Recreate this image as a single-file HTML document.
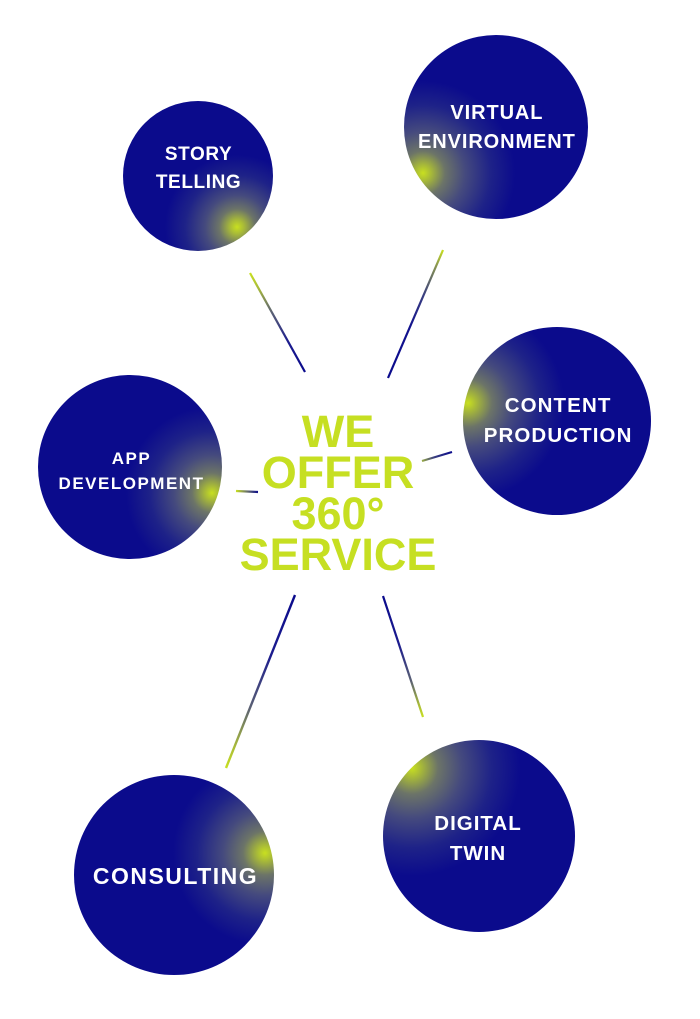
<!DOCTYPE html>
<html>
<head>
<meta charset="utf-8">
<style>
  html, body { margin: 0; padding: 0; background: #ffffff; }
  body { width: 700px; height: 1019px; position: relative; overflow: hidden; font-family: "Liberation Sans", sans-serif; }
  .c { position: absolute; border-radius: 50%; }
  .t { position: absolute; color: #ffffff; font-weight: bold; text-align: center; white-space: nowrap; }
  svg { position: absolute; left: 0; top: 0; }
  .center { position: absolute; left: 188px; width: 300px; top: 411px; text-align: center; color: #c6df22; font-weight: bold; font-size: 45px; line-height: 41px; }
</style>
</head>
<body>
<svg width="700" height="1019" viewBox="0 0 700 1019">
  <defs>
    <linearGradient id="g1" gradientUnits="userSpaceOnUse" x1="250" y1="273" x2="305" y2="372">
      <stop offset="0" stop-color="#c8e020"/><stop offset="0.15" stop-color="#a9bb3a"/><stop offset="0.4" stop-color="#5a6074"/><stop offset="0.7" stop-color="#1c1c8e"/><stop offset="1" stop-color="#0a0a8c"/>
    </linearGradient>
    <linearGradient id="g2" gradientUnits="userSpaceOnUse" x1="443" y1="250" x2="388" y2="378">
      <stop offset="0" stop-color="#c8e020"/><stop offset="0.12" stop-color="#8a9650"/><stop offset="0.35" stop-color="#3a3f80"/><stop offset="0.6" stop-color="#12128e"/><stop offset="1" stop-color="#0a0a8c"/>
    </linearGradient>
    <linearGradient id="g3" gradientUnits="userSpaceOnUse" x1="422" y1="461" x2="452" y2="452">
      <stop offset="0" stop-color="#9aab45"/><stop offset="0.4" stop-color="#3a3f80"/><stop offset="1" stop-color="#0a0a8c"/>
    </linearGradient>
    <linearGradient id="g4" gradientUnits="userSpaceOnUse" x1="236" y1="491" x2="258" y2="492">
      <stop offset="0" stop-color="#c8e020"/><stop offset="0.5" stop-color="#6a7268"/><stop offset="1" stop-color="#0a0a8c"/>
    </linearGradient>
    <linearGradient id="g5" gradientUnits="userSpaceOnUse" x1="295" y1="595" x2="226" y2="768">
      <stop offset="0" stop-color="#0a0a8c"/><stop offset="0.35" stop-color="#1c1c8e"/><stop offset="0.65" stop-color="#5a6074"/><stop offset="0.88" stop-color="#a9bb3a"/><stop offset="1" stop-color="#c8e020"/>
    </linearGradient>
    <linearGradient id="g6" gradientUnits="userSpaceOnUse" x1="383" y1="596" x2="423" y2="717">
      <stop offset="0" stop-color="#0a0a8c"/><stop offset="0.4" stop-color="#1c1c8e"/><stop offset="0.7" stop-color="#5a6074"/><stop offset="0.9" stop-color="#a9bb3a"/><stop offset="1" stop-color="#c8e020"/>
    </linearGradient>
  </defs>
  <line x1="250" y1="273" x2="305" y2="372" stroke="url(#g1)" stroke-width="2.2"/>
  <line x1="443" y1="250" x2="388" y2="378" stroke="url(#g2)" stroke-width="2.2"/>
  <line x1="422" y1="461" x2="452" y2="452" stroke="url(#g3)" stroke-width="2.2"/>
  <line x1="236" y1="491" x2="258" y2="492" stroke="url(#g4)" stroke-width="2.2"/>
  <line x1="295" y1="595" x2="226" y2="768" stroke="url(#g5)" stroke-width="2.4"/>
  <line x1="383" y1="596" x2="423" y2="717" stroke="url(#g6)" stroke-width="2.2"/>
</svg>

<!-- STORY TELLING -->
<div class="c" style="left:123px;top:101px;width:150px;height:150px;background:radial-gradient(circle at 114px 126px,#c8e020 0px,#a8ba38 7px,#6c7468 18px,#454a7e 32px,#1e2288 52px,#0b0b8c 72px);"></div>
<div class="t" style="left:98px;width:200px;top:141px;font-size:19px;line-height:28px;letter-spacing:0.6px;padding-left:0.6px;">STORY<br>TELLING</div>

<!-- VIRTUAL ENVIRONMENT -->
<div class="c" style="left:404px;top:35px;width:184px;height:184px;background:radial-gradient(circle at 19px 138px,#c8e020 0px,#a8ba38 8px,#6c7468 22px,#454a7e 42px,#1e2288 68px,#0b0b8c 92px);"></div>
<div class="t" style="left:396px;width:200px;top:99px;font-size:20px;line-height:29px;letter-spacing:0.9px;padding-left:0.9px;">VIRTUAL<br>ENVIRONMENT</div>

<!-- CONTENT PRODUCTION -->
<div class="c" style="left:463px;top:327px;width:188px;height:188px;background:radial-gradient(circle at 5px 76px,#c8e020 0px,#a8ba38 8px,#6c7468 24px,#454a7e 44px,#1e2288 72px,#0b0b8c 96px);"></div>
<div class="t" style="left:457px;width:200px;top:391px;font-size:20.5px;line-height:30px;letter-spacing:1.1px;padding-left:1.1px;">CONTENT<br>PRODUCTION</div>

<!-- APP DEVELOPMENT -->
<div class="c" style="left:38px;top:375px;width:184px;height:184px;background:radial-gradient(circle at 174px 118px,#c8e020 0px,#a8ba38 7px,#6c7468 20px,#454a7e 38px,#1e2288 62px,#0b0b8c 86px);"></div>
<div class="t" style="left:30px;width:200px;top:446px;font-size:17px;line-height:25px;letter-spacing:1.5px;padding-left:1.5px;">APP<br>DEVELOPMENT</div>

<!-- CONSULTING -->
<div class="c" style="left:74px;top:775px;width:200px;height:200px;background:radial-gradient(circle at 191px 78px,#c8e020 0px,#a8ba38 8px,#6c7468 22px,#454a7e 42px,#1e2288 68px,#0b0b8c 92px);"></div>
<div class="t" style="left:54px;width:240px;top:861px;font-size:23px;line-height:30px;letter-spacing:1.5px;padding-left:1.5px;">CONSULTING</div>

<!-- DIGITAL TWIN -->
<div class="c" style="left:383px;top:740px;width:192px;height:192px;background:radial-gradient(circle at 29px 28px,#c8e020 0px,#a8ba38 9px,#6c7468 26px,#454a7e 50px,#1e2288 80px,#0b0b8c 108px);"></div>
<div class="t" style="left:377px;width:200px;top:809px;font-size:20.5px;line-height:30px;letter-spacing:1px;padding-left:1px;">DIGITAL<br>TWIN</div>

<!-- CENTER -->
<div class="center">WE<br>OFFER<br>360°<br>SERVICE</div>
</body>
</html>
